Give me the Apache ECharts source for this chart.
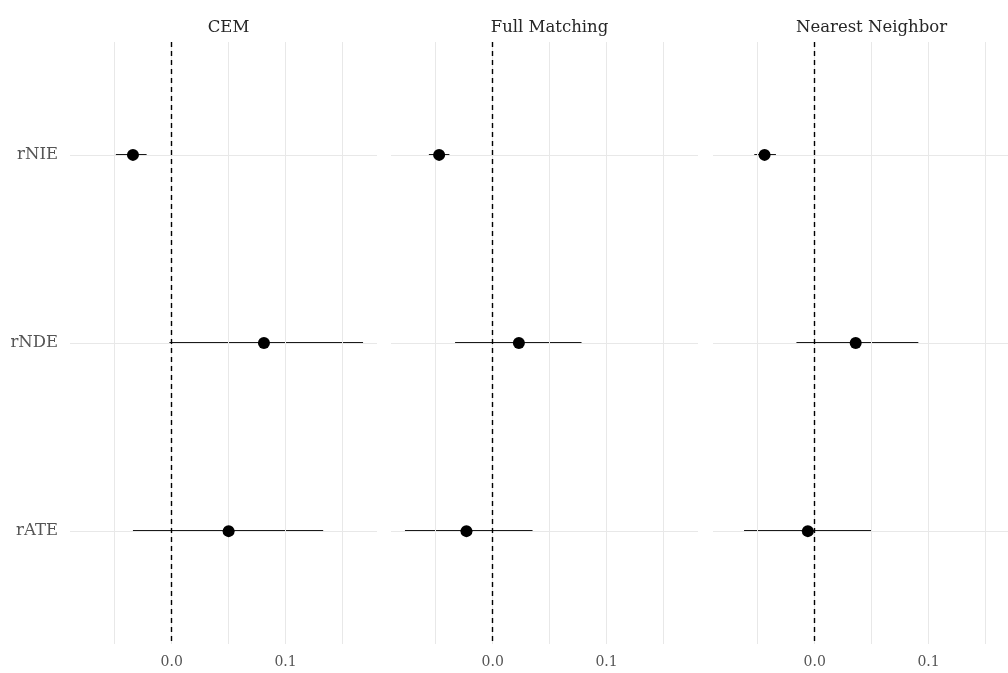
<!DOCTYPE html>
<html>
<head>
<meta charset="utf-8">
<script src="https://cdn.jsdelivr.net/npm/echarts@6/dist/echarts.min.js"></script>
<style>
  html, body { margin: 0; padding: 0; background: #fff; }
  #chart { width: 1008px; height: 673px; }
</style>
</head>
<body>
<div id="chart"></div>
<script>
// effect names, top to bottom
const categories = ['rNIE', 'rNDE', 'rATE'];
const methods = ['CEM', 'Full Matching', 'Nearest Neighbor'];

// point estimates and interval ends, one array per method (order = categories)
const cemEst = [-0.034, 0.081, 0.050];
const cemLow = [-0.049, -0.002, -0.034];
const cemHigh = [-0.022, 0.168, 0.133];

const fullEst = [-0.047, 0.023, -0.023];
const fullLow = [-0.056, -0.033, -0.077];
const fullHigh = [-0.038, 0.078, 0.035];

const nnEst = [-0.044, 0.036, -0.006];
const nnLow = [-0.053, -0.016, -0.062];
const nnHigh = [-0.034, 0.091, 0.050];

const xTicks = [0, 0.1];
const xGridLines = [-0.05, 0, 0.05, 0.1, 0.15];

const panels = [
  { est: cemEst, low: cemLow, high: cemHigh },
  { est: fullEst, low: fullLow, high: fullHigh },
  { est: nnEst, low: nnLow, high: nnHigh }
];

// shared x range, ggplot style 5% expansion
const allLow = Math.min(...cemLow, ...fullLow, ...nnLow);
const allHigh = Math.max(...cemHigh, ...fullHigh, ...nnHigh);
const pad = (allHigh - allLow) * 0.05;
const xMin = allLow - pad;
const xMax = allHigh + pad;

const FONT = 'DejaVu Serif';
const panelLeft = [70, 391, 713];
const panelWidth = 307;
const panelTop = 42;
const panelHeight = 602;

const chart = echarts.init(document.getElementById('chart'));

const grid = [], xAxis = [], yAxis = [], title = [], series = [];

panels.forEach((p, i) => {
  // last panel runs past the right edge, like the cropped original
  grid.push({
    left: panelLeft[i],
    width: panelWidth,
    top: panelTop,
    height: panelHeight,
    outerBoundsMode: 'none'
  });

  title.push({
    text: methods[i],
    left: panelLeft[i] + panelWidth / 2,
    top: 14,
    textAlign: 'center',
    textStyle: { fontFamily: FONT, fontSize: 16.5, fontWeight: 'normal', color: '#262626' }
  });

  xAxis.push({
    type: 'value',
    gridIndex: i,
    min: xMin,
    max: xMax,
    axisLine: { show: false },
    axisTick: { show: false },
    splitLine: { show: false },
    axisLabel: {
      customValues: xTicks,
      formatter: v => v.toFixed(1),
      margin: 11,
      fontFamily: FONT,
      fontSize: 14,
      color: '#555'
    }
  });

  yAxis.push({
    type: 'value',
    gridIndex: i,
    inverse: true,
    min: 0.4,
    max: categories.length + 0.6,
    axisLine: { show: false },
    axisTick: { show: false },
    splitLine: { show: false },
    axisLabel: {
      show: i === 0,
      customValues: categories.map((c, k) => k + 1),
      formatter: v => categories[Math.round(v) - 1] || '',
      margin: 12,
      fontFamily: FONT,
      fontSize: 16.5,
      color: '#555'
    }
  });

  // background grid lines
  series.push({
    type: 'line',
    xAxisIndex: i,
    yAxisIndex: i,
    data: [],
    silent: true,
    z: 1,
    markLine: {
      silent: true,
      symbol: 'none',
      label: { show: false },
      lineStyle: { color: '#e8e8e8', width: 1, type: 'solid' },
      data: xGridLines.map(v => ({ xAxis: v }))
        .concat(categories.map((c, k) => ({ yAxis: k + 1 })))
    }
  });

  // zero reference line
  series.push({
    type: 'line',
    xAxisIndex: i,
    yAxisIndex: i,
    data: [],
    silent: true,
    z: 3,
    markLine: {
      silent: true,
      symbol: 'none',
      label: { show: false },
      lineStyle: { color: '#000', width: 1.4, type: [5, 4] },
      data: [{ xAxis: 0 }]
    }
  });

  // interval bars
  series.push({
    type: 'custom',
    xAxisIndex: i,
    yAxisIndex: i,
    z: 4,
    data: categories.map((c, k) => [p.low[k], p.high[k], k + 1]),
    encode: { x: [0, 1], y: 2 },
    renderItem: (params, api) => {
      const a = api.coord([api.value(0), api.value(2)]);
      const b = api.coord([api.value(1), api.value(2)]);
      const y = Math.round(a[1]);
      return {
        type: 'line',
        shape: { x1: a[0], y1: y, x2: b[0], y2: y },
        style: { stroke: '#1a1a1a', lineWidth: 2 }
      };
    }
  });

  // point estimates
  series.push({
    type: 'scatter',
    xAxisIndex: i,
    yAxisIndex: i,
    z: 5,
    symbolSize: 12,
    itemStyle: { color: '#000', opacity: 1 },
    data: categories.map((c, k) => [p.est[k], k + 1])
  });
});

chart.setOption({
  animation: false,
  backgroundColor: '#fff',
  title, grid, xAxis, yAxis, series
});
</script>
</body>
</html>
